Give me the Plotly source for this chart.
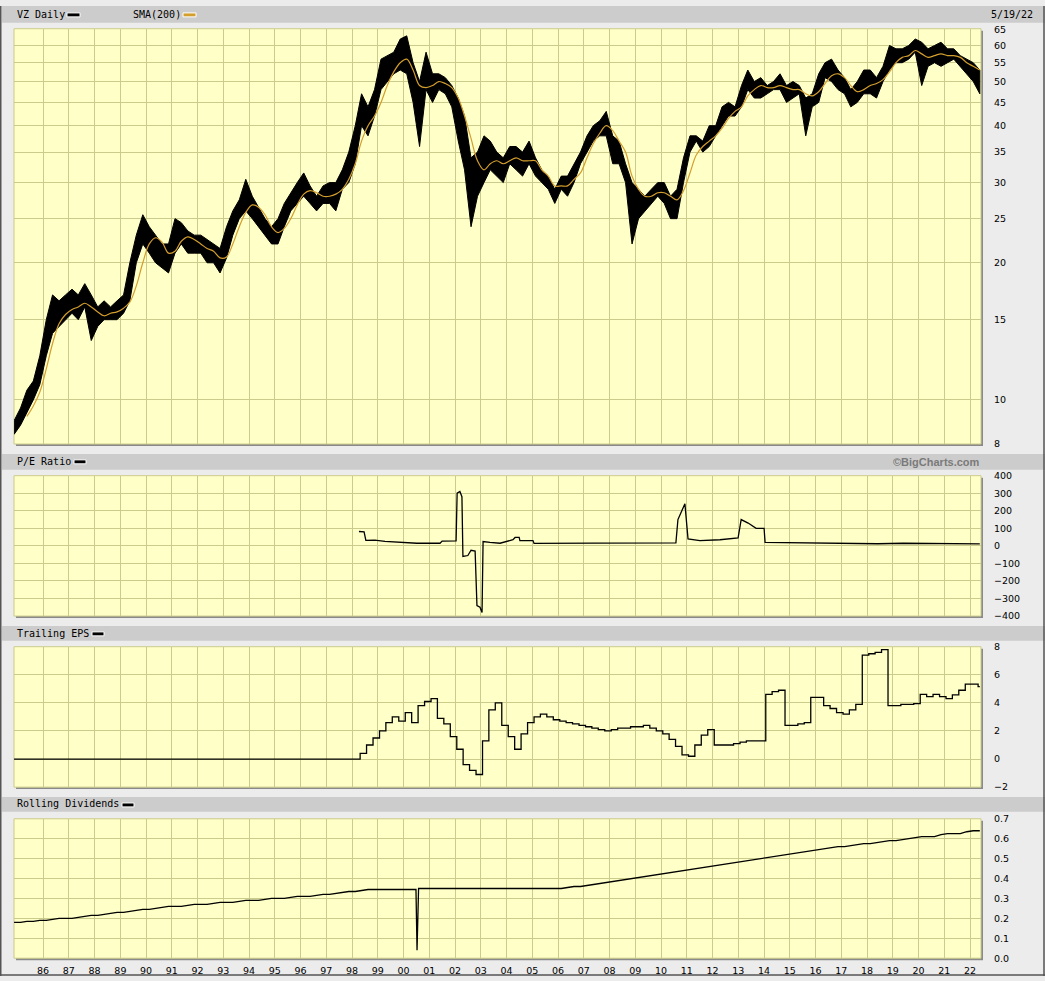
import math
import plotly.graph_objects as go

W, H = 1045, 981

# ---------------- data ----------------
price_dates = (["1984-11-15"]
               + [f"{y}-{m:02d}-15" for y in range(1985, 2022) for m in (2, 5, 8, 11)]
               + ["2022-02-15", "2022-05-19"])

price_low = [
    8.4,
    8.8, 9.4, 10.0, 10.8,     # 85
    12.5, 14.0, 14.5, 15.0,   # 86
    15.5, 15.0, 16.0, 13.5,   # 87
    14.5, 15.0, 15.0, 15.0,   # 88
    15.5, 16.5, 20.0, 22.0,   # 89
    21.0, 20.0, 19.5, 19.0,   # 90
    21.0, 22.0, 21.0, 21.0,   # 91
    21.0, 20.0, 20.0, 19.0,   # 92
    20.5, 23.0, 25.0, 26.0,   # 93
    25.0, 24.0, 23.0, 22.0,   # 94
    22.0, 24.0, 26.0, 27.0,   # 95
    28.0, 27.0, 26.0, 27.0,   # 96
    27.0, 26.0, 29.0, 30.0,   # 97
    33.0, 40.0, 38.0, 42.0,   # 98
    48.0, 50.0, 52.0, 53.0,   # 99
    52.0, 45.0, 36.0, 48.0,   # 00
    45.0, 48.0, 47.0, 44.0,   # 01
    37.0, 32.0, 24.0, 28.0,   # 02
    30.0, 32.0, 31.0, 30.0,   # 03
    33.0, 32.0, 31.0, 33.0,   # 04
    31.0, 30.0, 29.0, 27.0,   # 05
    29.0, 28.0, 30.0, 33.0,   # 06
    35.0, 37.0, 38.0, 38.0,   # 07
    33.0, 33.0, 30.0, 22.0,   # 08
    25.0, 26.0, 27.0, 28.0,   # 09
    27.0, 25.0, 25.0, 30.0,   # 10
    35.0, 37.0, 35.0, 36.0,   # 11
    38.0, 40.0, 42.0, 42.0,   # 12
    44.0, 48.0, 46.0, 46.0,   # 13
    47.0, 48.0, 48.0, 45.0,   # 14
    46.0, 47.0, 38.0, 44.0,   # 15
    45.0, 51.0, 50.0, 48.0,   # 16
    47.0, 44.0, 45.0, 47.0,   # 17
    47.0, 46.0, 50.0, 53.0,   # 18
    55.0, 55.0, 56.0, 58.0,   # 19
    49.0, 54.0, 55.0, 54.0,   # 20
    55.0, 56.0, 54.0, 52.0,   # 21
    50.0, 47.0,               # 22
]

price_high = [
    9.0,
    9.6, 10.5, 11.0, 12.5,    # 85
    15.0, 17.0, 16.5, 17.0,   # 86
    17.5, 17.0, 18.0, 17.0,   # 87
    16.0, 16.5, 16.0, 16.5,   # 88
    17.0, 20.0, 23.0, 25.5,   # 89
    24.0, 23.0, 22.0, 22.0,   # 90
    25.0, 24.5, 23.5, 23.0,   # 91
    23.0, 22.5, 22.0, 21.5,   # 92
    24.0, 26.0, 27.5, 30.5,   # 93
    28.0, 26.5, 25.0, 24.0,   # 94
    25.0, 27.0, 28.5, 30.0,   # 95
    31.5, 29.5, 28.0, 29.5,   # 96
    30.0, 30.0, 32.0, 35.0,   # 97
    40.0, 47.0, 44.0, 48.0,   # 98
    56.0, 57.0, 58.0, 62.0,   # 99
    63.0, 55.0, 50.0, 58.0,   # 00
    52.0, 52.0, 51.0, 49.0,   # 01
    46.0, 42.0, 34.0, 35.0,   # 02
    38.0, 37.0, 35.0, 34.0,   # 03
    36.0, 36.0, 35.0, 37.0,   # 04
    34.0, 32.0, 31.0, 29.0,   # 05
    31.0, 31.0, 33.0, 35.0,   # 06
    38.0, 40.0, 41.0, 43.0,   # 07
    38.0, 37.0, 33.0, 30.0,   # 08
    29.0, 28.0, 29.0, 30.0,   # 09
    30.0, 28.0, 29.0, 34.0,   # 10
    38.0, 38.0, 37.0, 40.0,   # 11
    40.0, 44.0, 45.0, 44.0,   # 12
    49.0, 53.0, 50.0, 51.0,   # 13
    49.0, 50.0, 52.0, 49.0,   # 14
    50.0, 49.0, 46.0, 47.0,   # 15
    52.0, 55.0, 56.0, 53.0,   # 16
    51.0, 48.0, 50.0, 53.0,   # 17
    53.0, 51.0, 54.0, 60.0,   # 18
    59.0, 59.0, 60.0, 62.0,   # 19
    61.0, 59.0, 60.0, 61.0,   # 20
    59.0, 59.0, 57.0, 56.0,   # 21
    55.0, 53.0,               # 22
]

sma_dates = price_dates[2:]
sma200 = [
    9.2, 9.7, 10.4,                 # 85
    11.7, 13.3, 14.7, 15.4,         # 86
    15.8, 16.0, 16.3, 16.0,         # 87
    15.6, 15.3, 15.5, 15.6,         # 88
    15.9, 16.4, 17.8, 20.0,         # 89
    22.0, 22.7, 22.2, 21.0,         # 90
    21.2, 22.3, 22.8, 22.5,         # 91
    22.0, 21.5, 21.2, 20.5,         # 92
    20.6, 22.0, 24.0, 25.8,         # 93
    26.8, 26.5, 25.5, 24.0,         # 94
    23.3, 23.8, 25.0, 26.8,         # 95
    28.3, 28.8, 28.5, 28.0,         # 96
    28.0, 28.3, 29.0, 30.5,         # 97
    33.0, 37.0, 40.0, 42.0,         # 98
    45.0, 49.0, 52.5, 55.0,         # 99
    56.0, 53.0, 49.0, 48.5,         # 00
    49.0, 50.0, 49.5, 48.5,         # 01
    46.0, 42.0, 37.5, 33.5,         # 02
    32.0, 33.0, 33.5, 33.0,         # 03
    33.5, 34.0, 33.5, 33.5,         # 04
    33.5, 32.0, 31.0, 29.5,         # 05
    29.5, 29.5, 30.5, 31.5,         # 06
    34.0, 36.5, 38.5, 40.0,         # 07
    39.0, 37.0, 35.0, 31.0,         # 08
    29.0, 28.0, 28.0, 28.5,         # 09
    28.5, 28.0, 27.5, 28.8,         # 10
    31.5, 34.5, 36.0, 37.0,         # 11
    38.0, 39.5, 41.5, 43.0,         # 12
    44.0, 46.5, 48.0, 49.0,         # 13
    48.5, 48.5, 49.0, 48.5,         # 14
    48.0, 48.0, 47.0, 46.5,         # 15
    47.5, 49.5, 51.5, 52.0,         # 16
    51.0, 49.0, 47.5, 48.0,         # 17
    49.0, 49.5, 50.5, 52.5,         # 18
    55.0, 56.5, 57.0, 58.5,         # 19
    57.5, 56.5, 57.0, 57.5,         # 20
    57.0, 57.0, 56.5, 55.0,         # 21
    54.0, 53.0,                     # 22
]

pe_dates = [
    "1998-04-08", "1998-06-20", "1998-07-15", "1998-11-20", "1999-04-12",
    "1999-11-10", "2000-07-08", "2001-06-01", "2001-07-01", "2002-01-15",
    "2002-01-30", "2002-03-10", "2002-04-08", "2002-04-22", "2002-07-01",
    "2002-08-15", "2002-10-12", "2002-11-07", "2002-12-20", "2003-01-18",
    "2003-02-02", "2003-05-10", "2003-10-01", "2004-04-01", "2004-05-01",
    "2004-06-28", "2004-07-08", "2005-01-10", "2005-01-25", "2007-06-01",
    "2009-06-01", "2010-07-30", "2010-08-28", "2010-10-25", "2010-12-05",
    "2011-01-18", "2011-07-05", "2012-04-15", "2012-12-28", "2013-02-10",
    "2013-05-20", "2013-09-10", "2014-01-01", "2014-01-15", "2015-06-01",
    "2016-06-01", "2018-06-01", "2019-06-01", "2022-05-19",
]
pe_ratio = [
    82, 80, 31, 33, 26,
    22, 15, 15, 27, 28,
    300, 310, 280, -60, -55,
    -25, -30, -340, -350, -380,
    25, 20, 15, 35, 48,
    48, 30, 30, 14, 16,
    14, 17, 150, 200, 240,
    40, 30, 35, 45, 150,
    130, 100, 100, 20, 17,
    15, 12, 15, 11,
]

eps_dates = (["1984-11-15"]
             + [f"1998-{m:02d}-25" for m in (4, 7, 10)]
             + [f"{y}-{m:02d}-25" for y in range(1999, 2022) for m in (1, 4, 7, 10)]
             + ["2022-01-25", "2022-04-25", "2022-05-19"])
trailing_eps = [
    0.0,
    0.4, 1.0, 1.5,            # 98
    2.0, 2.6, 3.0, 2.7,       # 99
    3.3, 2.6, 3.8, 4.1,       # 00
    4.3, 2.9, 2.5, 1.6,       # 01
    0.7, -0.4, -0.8, -1.1,    # 02
    1.3, 3.5, 4.0, 2.4,       # 03
    1.6, 0.7, 1.8, 2.6,       # 04
    3.0, 3.2, 3.0, 2.8,       # 05
    2.7, 2.6, 2.5, 2.4,       # 06
    2.3, 2.2, 2.1, 2.0,       # 07
    2.1, 2.2, 2.2, 2.3,       # 08
    2.3, 2.4, 2.2, 2.0,       # 09
    1.8, 1.4, 0.9, 0.3,       # 10
    0.2, 1.0, 1.7, 2.1,       # 11
    1.0, 1.0, 1.0, 1.1,       # 12
    1.2, 1.3, 1.3, 1.3,       # 13
    4.6, 4.8, 4.9, 2.4,       # 14
    2.4, 2.5, 2.6, 4.4,       # 15
    4.4, 3.8, 3.6, 3.3,       # 16
    3.2, 3.5, 3.9, 7.4,       # 17
    7.5, 7.6, 7.8, 3.8,       # 18
    3.8, 3.9, 3.9, 3.95,      # 19
    4.6, 4.45, 4.6, 4.45,     # 20
    4.3, 4.57, 4.9, 5.33,     # 21
    5.33, 5.16, 5.16,         # 22
]

div_dates = (["1984-11-15"]
             + [f"{y}-{m:02d}-15" for y in range(1985, 2000) for m in (2, 5, 8, 11)]
             + ["2000-02-15", "2000-05-15", "2000-06-25", "2000-07-10", "2000-08-01", "2000-11-15"]
             + [f"{y}-{m:02d}-15" for y in range(2001, 2022) for m in (2, 5, 8, 11)]
             + ["2022-02-15", "2022-05-19"])
rolling_div = [
    0.18,
    0.18, 0.185, 0.185, 0.19,     # 85
    0.19, 0.195, 0.2, 0.2,        # 86
    0.2, 0.205, 0.21, 0.215,      # 87
    0.215, 0.22, 0.225, 0.23,     # 88
    0.23, 0.235, 0.24, 0.245,     # 89
    0.245, 0.25, 0.255, 0.26,     # 90
    0.26, 0.26, 0.265, 0.27,      # 91
    0.27, 0.27, 0.275, 0.28,      # 92
    0.28, 0.28, 0.285, 0.29,      # 93
    0.29, 0.29, 0.295, 0.30,      # 94
    0.30, 0.30, 0.305, 0.31,      # 95
    0.31, 0.31, 0.315, 0.32,      # 96
    0.32, 0.325, 0.33, 0.335,     # 97
    0.335, 0.34, 0.345, 0.345,    # 98
    0.345, 0.345, 0.345, 0.345,   # 99
    0.345, 0.345, 0.345, 0.04, 0.35, 0.35,   # 00
    0.35, 0.35, 0.35, 0.35,       # 01
    0.35, 0.35, 0.35, 0.35,       # 02
    0.35, 0.35, 0.35, 0.35,       # 03
    0.35, 0.35, 0.35, 0.35,       # 04
    0.35, 0.35, 0.35, 0.35,       # 05
    0.35, 0.355, 0.36, 0.36,      # 06
    0.365, 0.37, 0.375, 0.38,     # 07
    0.385, 0.39, 0.395, 0.40,     # 08
    0.405, 0.41, 0.415, 0.42,     # 09
    0.425, 0.43, 0.435, 0.44,     # 10
    0.445, 0.45, 0.455, 0.46,     # 11
    0.465, 0.47, 0.475, 0.48,     # 12
    0.485, 0.49, 0.495, 0.50,     # 13
    0.505, 0.51, 0.515, 0.52,     # 14
    0.525, 0.53, 0.535, 0.54,     # 15
    0.545, 0.55, 0.555, 0.56,     # 16
    0.56, 0.565, 0.57, 0.575,     # 17
    0.575, 0.58, 0.585, 0.59,     # 18
    0.59, 0.595, 0.60, 0.605,     # 19
    0.61, 0.61, 0.61, 0.62,       # 20
    0.625, 0.625, 0.625, 0.635,   # 21
    0.64, 0.64,                   # 22
]

year_ticks = [f"{y}-01-01" for y in range(1986, 2023)]
year_labels = [f"{y % 100:02d}" for y in range(1986, 2023)]

price_ticks = [8, 10, 15, 20, 25, 30, 35, 40, 45, 50, 55, 60, 65]
pe_ticks = [-400, -300, -200, -100, 0, 100, 200, 300, 400]
eps_ticks = [-2, 0, 2, 4, 6, 8]
div_ticks = [0.0, 0.1, 0.2, 0.3, 0.4, 0.5, 0.6, 0.7]

# ---------------- style / geometry ----------------
BG = "#ececec"
BAR = "#cccccc"
PLOT_BG = "#ffffc8"
GRID = "#cbcb8c"
SMA_COLOR = "#d49e2c"
MONO = "DejaVu Sans Mono"
SANS = "DejaVu Sans"

X_LEFT, X_RIGHT = 14, 981
panels = [(23, 443), (475, 617), (648, 790), (822, 963)]   # top/bottom pixel rows
bars = [(0, 17), (453, 469), (627, 642), (800, 815)]


def fx(px):
    return px / W


def fy(py):
    return 1 - py / H


fig = go.Figure()

# price as a filled high/low band
fig.add_trace(go.Scatter(
    x=price_dates + price_dates[::-1],
    y=price_high + price_low[::-1],
    fill="toself", fillcolor="black",
    line=dict(color="black", width=1),
    mode="lines", hoverinfo="skip", xaxis="x", yaxis="y",
))
fig.add_trace(go.Scatter(
    x=sma_dates, y=sma200, mode="lines",
    line=dict(color=SMA_COLOR, width=1.2, shape="spline"),
    xaxis="x", yaxis="y",
))
fig.add_trace(go.Scatter(
    x=pe_dates, y=pe_ratio, mode="lines",
    line=dict(color="black", width=1.3),
    xaxis="x2", yaxis="y2",
))
fig.add_trace(go.Scatter(
    x=eps_dates, y=trailing_eps, mode="lines",
    line=dict(color="black", width=1.3, shape="hv"),
    xaxis="x3", yaxis="y3",
))
fig.add_trace(go.Scatter(
    x=div_dates, y=rolling_div, mode="lines",
    line=dict(color="black", width=1.3),
    xaxis="x4", yaxis="y4",
))

x_range = ["1984-11-14", "2022-06-05"]
axis_font = dict(family=SANS, size=9.5, color="black")

layout = dict(
    width=W, height=H,
    margin=dict(l=0, r=0, t=0, b=0),
    paper_bgcolor=BG, plot_bgcolor="rgba(0,0,0,0)",
    showlegend=False,
)

y_ranges = [
    [math.log10(8), math.log10(65.3)],
    [-400, 400],
    [-2, 8],
    [0, 0.7],
]
y_ticks = [price_ticks, pe_ticks, eps_ticks, div_ticks]

for i, (top, bottom) in enumerate(panels):
    n = "" if i == 0 else str(i + 1)
    layout[f"xaxis{n}"] = dict(
        domain=[fx(X_LEFT), fx(X_RIGHT)], range=x_range, type="date",
        anchor=f"y{n}", showgrid=True, gridcolor=GRID, gridwidth=1,
        tickmode="array", tickvals=year_ticks, ticktext=year_labels,
        showticklabels=(i == 3), ticks="", ticklabelstandoff=5,
        zeroline=False, showline=False, tickfont=axis_font, fixedrange=True,
    )
    ya = dict(
        domain=[fy(bottom), fy(top)], range=y_ranges[i],
        anchor=f"x{n}", side="right", showgrid=True, gridcolor=GRID, gridwidth=1,
        tickmode="array", tickvals=y_ticks[i], ticks="", ticklabelstandoff=12,
        zeroline=False, showline=False, tickfont=axis_font, fixedrange=True,
    )
    if i == 0:
        ya["type"] = "log"
    if i == 3:
        ya["tickformat"] = ".1f"
    layout[f"yaxis{n}"] = ya

shapes = []
for top, bottom in panels:
    # drop shadow, then the pale yellow plot area on top of it, with an olive rim
    shapes.append(dict(type="rect", xref="paper", yref="paper", layer="below",
                       x0=fx(X_LEFT + 2), x1=fx(X_RIGHT + 2), y0=fy(bottom + 2), y1=fy(top + 2),
                       fillcolor="#8a8a8a", line=dict(width=0)))
    shapes.append(dict(type="rect", xref="paper", yref="paper", layer="below",
                       x0=fx(X_LEFT), x1=fx(X_RIGHT), y0=fy(bottom), y1=fy(top),
                       fillcolor=PLOT_BG, line=dict(color=GRID, width=1)))
for top, bottom in bars:
    shapes.append(dict(type="rect", xref="paper", yref="paper", layer="below",
                       x0=fx(2), x1=1, y0=fy(bottom), y1=fy(top),
                       fillcolor=BAR, line=dict(width=0)))
# page frame: left, bottom and right edges
for x0, y0, x1, y1 in [(0.75, 0, 0.75, H), (0, H - 1, W, H - 1), (W - 1, 0, W - 1, H)]:
    shapes.append(dict(type="line", xref="paper", yref="paper", layer="above",
                       x0=fx(x0), x1=fx(x1), y0=fy(y0), y1=fy(y1),
                       line=dict(color="#555555", width=1.5)))
swatches = [(67, 80, 7, 11, "black"), (183, 196, 7, 11, SMA_COLOR),
            (74, 86, 459, 463, "black"), (92, 104, 633, 637, "black"),
            (122, 134, 806, 810, "black")]
for x0, x1, y0, y1, c in swatches:
    shapes.append(dict(type="rect", xref="paper", yref="paper",
                       x0=fx(x0), x1=fx(x1), y0=fy(y1), y1=fy(y0),
                       fillcolor=c, line=dict(color="white", width=1)))
layout["shapes"] = shapes

head_font = dict(family=MONO, size=10, color="black")
labels = [("VZ Daily", 15, 9), ("SMA(200)", 131, 9), ("P/E Ratio", 15, 461),
          ("Trailing EPS", 15, 635), ("Rolling Dividends", 15, 807)]
annotations = [dict(text=t, x=fx(x), y=fy(y), xref="paper", yref="paper",
                    xanchor="left", yanchor="middle", showarrow=False, font=head_font)
               for t, x, y in labels]
annotations.append(dict(text="5/19/22", x=fx(1035), y=fy(9), xref="paper", yref="paper",
                        xanchor="right", yanchor="middle", showarrow=False, font=head_font))
annotations.append(dict(text="<b>©BigCharts.com</b>", x=fx(982), y=fy(461), xref="paper",
                        yref="paper", xanchor="right", yanchor="middle", showarrow=False,
                        font=dict(family="Liberation Sans", size=11, color="#7a7a7a")))
layout["annotations"] = annotations

fig.update_layout(**layout)
fig.write_html(
    "out.html",
    config={"displayModeBar": False},
    post_script=(
        "document.body.style.margin='0';document.body.style.overflow='hidden';"
        "var d=document.getElementById('{plot_id}');"
        "d.style.position='absolute';d.style.left='0px';d.style.top='0px';"
    ),
)
